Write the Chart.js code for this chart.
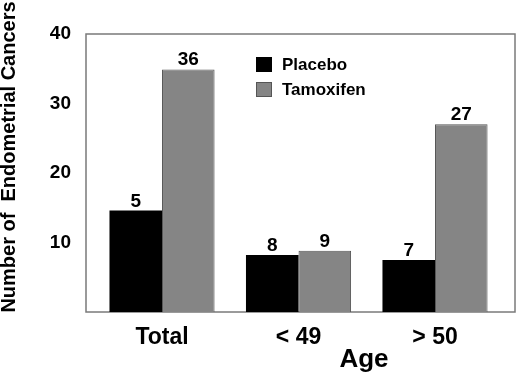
<!DOCTYPE html>
<html>
<head>
<meta charset="utf-8">
<script src="https://cdn.jsdelivr.net/npm/chart.js@4/dist/chart.umd.min.js"></script>
<style>
  html, body { margin: 0; padding: 0; background: #fff; }
  #wrap { width: 516px; height: 376px; }
</style>
</head>
<body>
<div id="wrap"><canvas id="barChart"></canvas></div>
<script>
// data
const categories = ['Total', '< 49', '> 50'];
const placeboHeights = [14.6, 8.2, 7.5];
const tamoxifenHeights = [34.9, 8.8, 27.0];
// numbers printed above the bars
const placeboLabels = ['5', '8', '7'];
const tamoxifenLabels = ['36', '9', '27'];
const yTicks = [10, 20, 30, 40];

const FONT = '"Liberation Sans", Arial, sans-serif';

// groups sit on 0,1,2 of a linear x axis so the spacing can match the original
const toPoints = (values) => values.map((v, i) => ({ x: i, y: v }));

// draws the box, the value labels, the legend and both axis titles
const decorations = {
    id: 'decorations',
    beforeDatasetsDraw(chart) {
        const { ctx, chartArea: a } = chart;
        ctx.save();
        ctx.strokeStyle = '#7a7a7a';
        ctx.lineWidth = 1.5;
        ctx.strokeRect(a.left, a.top, a.right - a.left, a.bottom - a.top);
        ctx.restore();
    },
    afterDatasetsDraw(chart) {
        const { ctx } = chart;
        const labelSets = [placeboLabels, tamoxifenLabels];
        ctx.save();
        ctx.fillStyle = '#000';
        ctx.font = 'bold 19px ' + FONT;
        ctx.textAlign = 'center';
        ctx.textBaseline = 'alphabetic';
        chart.data.datasets.forEach((ds, i) => {
            chart.getDatasetMeta(i).data.forEach((bar, j) => {
                ctx.fillText(labelSets[i][j], bar.x, bar.y - 4);
            });
        });

        // legend, stacked inside the plot
        ctx.font = 'bold 17px ' + FONT;
        ctx.textAlign = 'left';
        ctx.textBaseline = 'middle';
        chart.data.datasets.forEach((ds, i) => {
            const y = 57 + i * 25;
            ctx.fillStyle = ds.backgroundColor;
            ctx.fillRect(256, y, 16, 15);
            ctx.strokeStyle = ds.borderColor;
            ctx.lineWidth = 1;
            ctx.strokeRect(256.5, y + 0.5, 15, 14);
            ctx.fillStyle = '#000';
            ctx.fillText(ds.label, 282, y + 8);
        });

        // axis titles
        ctx.font = 'bold 26px ' + FONT;
        ctx.textAlign = 'center';
        ctx.fillText('Age', 364, 360);

        ctx.translate(9, 157);
        ctx.rotate(-Math.PI / 2);
        ctx.font = 'bold 20px ' + FONT;
        ctx.fillText('Number of  Endometrial Cancers', 0, 0);
        ctx.restore();
    }
};

const ctxBar = document.getElementById('barChart').getContext('2d');
const barChart = new Chart(ctxBar, {
    type: 'bar',
    data: {
        datasets: [{
            label: 'Placebo',
            data: toPoints(placeboHeights),
            backgroundColor: '#000000',
            borderColor: '#000000',
            borderWidth: 0
        }, {
            label: 'Tamoxifen',
            data: toPoints(tamoxifenHeights),
            backgroundColor: '#858585',
            borderColor: '#555555',
            borderWidth: 1
        }]
    },
    options: {
        responsive: true,
        maintainAspectRatio: false,
        animation: false,
        layout: { padding: { top: 34, right: 1, left: 0, bottom: 0 } },
        plugins: {
            legend: { display: false },
            tooltip: { enabled: false }
        },
        datasets: {
            bar: { barPercentage: 1, categoryPercentage: 0.77 }
        },
        scales: {
            x: {
                type: 'linear',
                offset: false,
                min: -0.557,
                max: 2.586,
                grid: { display: false, drawTicks: false },
                border: { display: false },
                afterBuildTicks: (scale) => {
                    scale.ticks = categories.map((c, i) => ({ value: i }));
                },
                ticks: {
                    color: '#000',
                    padding: 12,
                    callback: (v) => categories[v],
                    font: { family: FONT, size: 23, weight: 'bold' }
                },
                afterFit: (scale) => { scale.height = 64; }
            },
            y: {
                min: 0,
                max: 40,
                grid: { display: false, drawTicks: false },
                border: { display: false },
                afterBuildTicks: (scale) => {
                    scale.ticks = yTicks.map(v => ({ value: v }));
                },
                ticks: {
                    color: '#000',
                    padding: 15,
                    font: { family: FONT, size: 19, weight: 'bold' }
                },
                afterFit: (scale) => { scale.width = 86; }
            }
        }
    },
    plugins: [decorations]
});
</script>
</body>
</html>
